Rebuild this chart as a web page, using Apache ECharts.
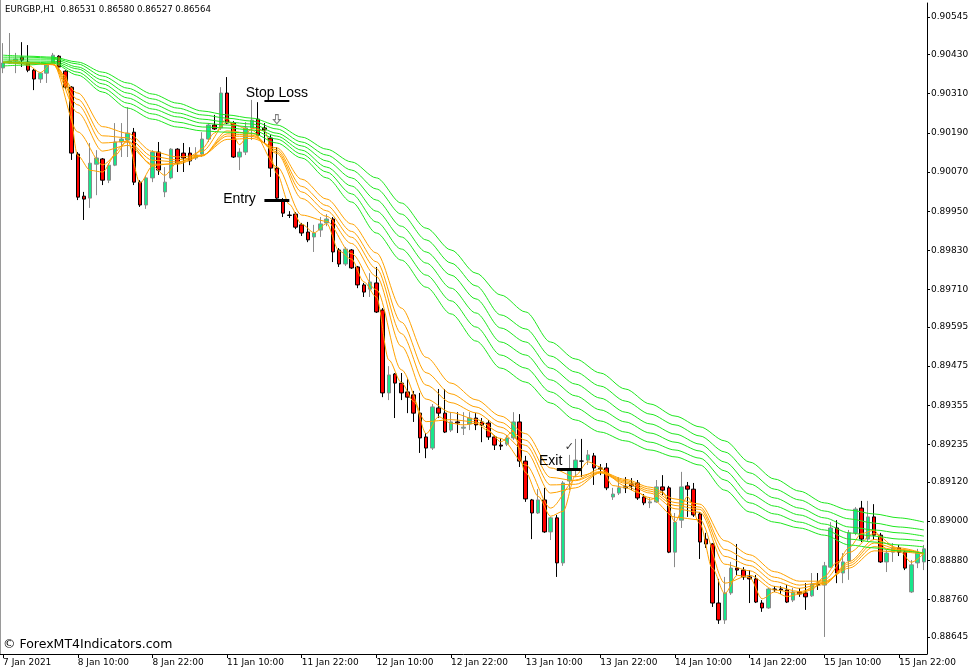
<!DOCTYPE html>
<html><head><meta charset="utf-8">
<script src="https://cdn.jsdelivr.net/npm/echarts@6/dist/echarts.min.js"></script>
<style>html,body{margin:0;padding:0;background:#fff}#c{width:977px;height:672px}</style>
</head><body><div id="c"></div>
<script>
// ---- tick labels ----
const timeLabels = ['7 Jan 2021','8 Jan 10:00','8 Jan 22:00','11 Jan 10:00','11 Jan 22:00','12 Jan 10:00','12 Jan 22:00','13 Jan 10:00','13 Jan 22:00','14 Jan 10:00','14 Jan 22:00','15 Jan 10:00','15 Jan 22:00'];
const priceTicks = [0.90545,0.90430,0.90310,0.90190,0.90070,0.89950,0.89830,0.89710,0.89595,0.89475,0.89355,0.89235,0.89120,0.89000,0.88880,0.88760,0.88645];

// ---- candles (EURGBP H1) ----
const open = [0.90389,0.90404,0.90410,0.90422,0.90407,0.90382,0.90355,0.90373,0.90404,0.90425,
0.90379,0.90330,0.90125,0.89996,0.89990,0.90094,0.90110,0.90045,0.90091,0.90162,
0.90168,0.90192,0.90039,0.89969,0.90052,0.90131,0.90009,0.90052,0.90140,0.90128,
0.90128,0.90113,0.90125,0.90171,0.90214,0.90205,0.90312,0.90220,0.90116,0.90131,
0.90205,0.90232,0.90205,0.90174,0.90082,0.89984,0.89938,0.89941,0.89908,0.89886,
0.89871,0.89892,0.89914,0.89926,0.89831,0.89788,0.89831,0.89779,0.89724,0.89711,
0.89730,0.89647,0.89393,0.89451,0.89423,0.89396,0.89387,0.89331,0.89258,0.89224,
0.89347,0.89331,0.89279,0.89304,0.89285,0.89298,0.89316,0.89304,0.89301,0.89258,
0.89233,0.89236,0.89255,0.89304,0.89184,0.89065,0.89025,0.89065,0.88967,0.89010,
0.88872,0.89123,0.89157,0.89184,0.89187,0.89200,0.89163,0.89163,0.89074,0.89086,
0.89105,0.89114,0.89117,0.89074,0.89056,0.89059,0.89105,0.89102,0.88905,0.89003,
0.89108,0.89098,0.89022,0.88945,0.88930,0.88749,0.88697,0.88780,0.88856,0.88850,
0.88829,0.88823,0.88749,0.88734,0.88792,0.88792,0.88789,0.88758,0.88783,0.88780,
0.88771,0.88807,0.88804,0.88859,0.88979,0.88841,0.88878,0.88964,0.89040,0.88945,
0.89013,0.88957,0.88875,0.88905,0.88918,0.88905,0.88783,0.88872,0.88875];
const high = [0.90465,0.90496,0.90435,0.90468,0.90459,0.90386,0.90376,0.90404,0.90435,0.90428,
0.90382,0.90333,0.90131,0.90009,0.90159,0.90137,0.90113,0.90097,0.90220,0.90220,
0.90269,0.90205,0.90045,0.90058,0.90137,0.90162,0.90085,0.90143,0.90143,0.90159,
0.90146,0.90146,0.90192,0.90220,0.90245,0.90330,0.90361,0.90226,0.90143,0.90223,
0.90291,0.90284,0.90220,0.90183,0.90146,0.89990,0.89950,0.89947,0.89914,0.89917,
0.89908,0.89932,0.89941,0.89932,0.89837,0.89840,0.89834,0.89782,0.89730,0.89760,
0.89779,0.89653,0.89475,0.89454,0.89454,0.89439,0.89399,0.89393,0.89270,0.89359,
0.89405,0.89405,0.89334,0.89334,0.89334,0.89334,0.89331,0.89316,0.89310,0.89264,
0.89255,0.89264,0.89334,0.89328,0.89200,0.89068,0.89098,0.89102,0.89013,0.89019,
0.89123,0.89203,0.89252,0.89252,0.89218,0.89209,0.89175,0.89178,0.89102,0.89135,
0.89135,0.89132,0.89126,0.89083,0.89071,0.89126,0.89141,0.89108,0.89025,0.89151,
0.89120,0.89117,0.89028,0.88964,0.88933,0.88823,0.88829,0.88875,0.88930,0.88859,
0.88850,0.88835,0.88758,0.88795,0.88801,0.88801,0.88804,0.88795,0.88795,0.88810,
0.88841,0.88841,0.88875,0.88997,0.89003,0.88902,0.88973,0.89043,0.89062,0.89062,
0.89052,0.88964,0.88912,0.88933,0.88927,0.88912,0.88881,0.88915,0.88927];
const low = [0.90373,0.90401,0.90373,0.90392,0.90376,0.90321,0.90343,0.90343,0.90401,0.90376,
0.90324,0.90107,0.89984,0.89923,0.89960,0.89999,0.90030,0.90036,0.90088,0.90116,
0.90116,0.90030,0.89963,0.89957,0.90039,0.90061,0.89993,0.90048,0.90070,0.90070,
0.90091,0.90107,0.90116,0.90162,0.90199,0.90199,0.90217,0.90113,0.90076,0.90122,
0.90168,0.90180,0.90159,0.90055,0.89984,0.89932,0.89929,0.89895,0.89874,0.89855,
0.89825,0.89871,0.89904,0.89794,0.89779,0.89782,0.89773,0.89714,0.89687,0.89687,
0.89638,0.89380,0.89371,0.89316,0.89371,0.89331,0.89304,0.89209,0.89193,0.89218,
0.89316,0.89270,0.89273,0.89270,0.89264,0.89279,0.89279,0.89242,0.89249,0.89218,
0.89218,0.89230,0.89249,0.89166,0.89059,0.88945,0.89022,0.88964,0.88942,0.88829,
0.88863,0.89095,0.89135,0.89135,0.89172,0.89111,0.89141,0.89095,0.89065,0.89080,
0.89086,0.89095,0.89065,0.89049,0.89040,0.89056,0.89080,0.88902,0.88859,0.88979,
0.89013,0.89013,0.88884,0.88918,0.88737,0.88685,0.88685,0.88774,0.88835,0.88820,
0.88749,0.88749,0.88722,0.88731,0.88783,0.88777,0.88749,0.88752,0.88768,0.88728,
0.88768,0.88789,0.88645,0.88856,0.88810,0.88810,0.88820,0.88957,0.88936,0.88939,
0.88942,0.88872,0.88844,0.88875,0.88893,0.88850,0.88780,0.88856,0.88850];
const close = [0.90404,0.90410,0.90416,0.90413,0.90382,0.90355,0.90373,0.90398,0.90428,0.90392,
0.90330,0.90128,0.89993,0.89987,0.90097,0.90113,0.90045,0.90091,0.90162,0.90171,
0.90189,0.90039,0.89969,0.90052,0.90131,0.90076,0.90039,0.90140,0.90097,0.90113,
0.90104,0.90122,0.90171,0.90214,0.90202,0.90312,0.90220,0.90116,0.90131,0.90205,
0.90229,0.90183,0.90199,0.90082,0.89990,0.89944,0.89937,0.89901,0.89883,0.89862,
0.89883,0.89911,0.89926,0.89825,0.89788,0.89834,0.89776,0.89724,0.89702,0.89733,
0.89641,0.89393,0.89448,0.89423,0.89393,0.89380,0.89331,0.89255,0.89224,0.89350,
0.89331,0.89273,0.89304,0.89301,0.89288,0.89316,0.89295,0.89295,0.89258,0.89233,
0.89230,0.89255,0.89304,0.89184,0.89068,0.89025,0.89065,0.88967,0.89010,0.88872,
0.89117,0.89154,0.89187,0.89184,0.89203,0.89163,0.89160,0.89102,0.89083,0.89102,
0.89102,0.89108,0.89071,0.89056,0.89059,0.89105,0.89095,0.88905,0.88997,0.89105,
0.89098,0.89019,0.88936,0.88930,0.88749,0.88697,0.88780,0.88856,0.88850,0.88829,
0.88823,0.88752,0.88734,0.88792,0.88790,0.88789,0.88752,0.88783,0.88777,0.88768,
0.88807,0.88804,0.88863,0.88979,0.88841,0.88875,0.88964,0.89037,0.88945,0.89013,
0.88957,0.88875,0.88902,0.88918,0.88905,0.88856,0.88866,0.88902,0.88915];

// ---- moving-average ribbons (fastest line read every 2 bars, others every 4 bars) ----
const fastIdx = [0,2,4,6,8,10,12,14,16,18,20,22,24,26,28,30,32,34,36,38,40,42,44,46,48,50,52,54,56,58,60,62,64,66,68,70,72,74,76,78,80,82,84,86,88,90,92,94,96,98,100,102,104,106,108,110,112,114,116,118,120,122,124,126,128,130,132,134,136,138,140,142,144,146,148];
const ma3 = [0.90405,0.90412,0.90397,0.90375,0.90407,0.90365,0.90120,0.90075,0.90070,0.90121,
0.90168,0.90036,0.90088,0.90060,0.90099,0.90105,0.90142,0.90190,0.90235,0.90154,
0.90204,0.90196,0.90065,0.89971,0.89910,0.89884,0.89912,0.89828,0.89803,0.89733,
0.89687,0.89494,0.89425,0.89367,0.89268,0.89320,0.89300,0.89295,0.89300,0.89277,
0.89243,0.89276,0.89149,0.89076,0.89015,0.89030,0.89140,0.89182,0.89166,0.89109,
0.89103,0.89088,0.89065,0.89090,0.88998,0.89075,0.88992,0.88855,0.88778,0.88834,
0.88827,0.88762,0.88783,0.88769,0.88776,0.88790,0.88830,0.88873,0.88919,0.88962,
0.88972,0.88913,0.88910,0.88874,0.88901];
const lineIdx = [0,4,8,12,16,20,24,28,32,36,40,44,48,52,56,60,64,68,72,76,80,84,88,92,96,100,104,108,112,116,120,124,128,132,136,140,144,148];
const ma5  = [0.90406,0.90401,0.90402,0.90193,0.90092,0.90162,0.90090,0.90097,0.90134,0.90222,0.90198,0.90086,0.89938,0.89919,0.89820,0.89709,0.89464,0.89305,0.89311,0.89304,0.89253,0.89172,0.89040,0.89126,0.89160,0.89108,0.89072,0.89012,0.89004,0.88810,0.88834,0.88789,0.88779,0.88821,0.88904,0.88962,0.88913,0.88901];
const ma8  = [0.90406,0.90404,0.90399,0.90252,0.90134,0.90152,0.90094,0.90094,0.90119,0.90196,0.90188,0.90127,0.89989,0.89934,0.89851,0.89750,0.89536,0.89374,0.89333,0.89312,0.89271,0.89214,0.89086,0.89102,0.89148,0.89116,0.89086,0.89038,0.89027,0.88868,0.88848,0.88800,0.88784,0.88806,0.88876,0.88944,0.88918,0.88901];
const ma10 = [0.90406,0.90405,0.90399,0.90276,0.90159,0.90164,0.90106,0.90101,0.90120,0.90187,0.90183,0.90132,0.90009,0.89951,0.89870,0.89774,0.89575,0.89417,0.89363,0.89332,0.89288,0.89232,0.89111,0.89113,0.89149,0.89120,0.89092,0.89048,0.89036,0.88892,0.88864,0.88815,0.88794,0.88810,0.88870,0.88933,0.88914,0.88900];
const ma12 = [0.90407,0.90405,0.90400,0.90293,0.90181,0.90175,0.90118,0.90107,0.90121,0.90180,0.90179,0.90138,0.90026,0.89967,0.89888,0.89795,0.89610,0.89455,0.89390,0.89350,0.89303,0.89248,0.89134,0.89124,0.89150,0.89124,0.89098,0.89057,0.89043,0.88913,0.88879,0.88828,0.88804,0.88812,0.88863,0.88922,0.88911,0.88900];
const ma15 = [0.90407,0.90405,0.90400,0.90312,0.90209,0.90189,0.90133,0.90116,0.90122,0.90170,0.90173,0.90144,0.90048,0.89987,0.89911,0.89822,0.89653,0.89502,0.89423,0.89372,0.89322,0.89268,0.89163,0.89136,0.89152,0.89128,0.89104,0.89068,0.89052,0.88940,0.88897,0.88845,0.88816,0.88816,0.88856,0.88909,0.88906,0.88899];
const ma30 = [0.90395,0.90398,0.90404,0.90367,0.90315,0.90266,0.90232,0.90208,0.90196,0.90192,0.90189,0.90159,0.90113,0.90052,0.89978,0.89883,0.89800,0.89717,0.89635,0.89552,0.89469,0.89426,0.89362,0.89310,0.89273,0.89246,0.89218,0.89197,0.89172,0.89095,0.89028,0.88997,0.88979,0.88957,0.88927,0.88918,0.88909,0.88902];
const ma35 = [0.90404,0.90404,0.90407,0.90376,0.90327,0.90281,0.90248,0.90223,0.90208,0.90205,0.90199,0.90171,0.90125,0.90070,0.90003,0.89917,0.89834,0.89754,0.89675,0.89595,0.89509,0.89469,0.89396,0.89347,0.89307,0.89273,0.89242,0.89218,0.89193,0.89126,0.89056,0.89022,0.88997,0.88973,0.88945,0.88936,0.88927,0.88921];
const ma40 = [0.90410,0.90410,0.90410,0.90386,0.90340,0.90297,0.90263,0.90239,0.90220,0.90214,0.90208,0.90180,0.90137,0.90085,0.90027,0.89950,0.89871,0.89791,0.89714,0.89638,0.89549,0.89509,0.89433,0.89384,0.89341,0.89304,0.89270,0.89242,0.89215,0.89154,0.89083,0.89046,0.89019,0.88991,0.88964,0.88954,0.88945,0.88939];
const ma45 = [0.90416,0.90416,0.90416,0.90392,0.90352,0.90312,0.90278,0.90251,0.90232,0.90223,0.90217,0.90189,0.90150,0.90104,0.90052,0.89984,0.89904,0.89825,0.89754,0.89681,0.89592,0.89549,0.89469,0.89420,0.89377,0.89334,0.89298,0.89267,0.89236,0.89181,0.89114,0.89071,0.89040,0.89010,0.88982,0.88973,0.88964,0.88954];
const ma50 = [0.90422,0.90422,0.90419,0.90401,0.90364,0.90327,0.90294,0.90266,0.90245,0.90235,0.90226,0.90202,0.90162,0.90122,0.90076,0.90018,0.89941,0.89862,0.89791,0.89721,0.89632,0.89589,0.89506,0.89457,0.89414,0.89368,0.89328,0.89295,0.89261,0.89212,0.89148,0.89098,0.89065,0.89031,0.89007,0.88994,0.88982,0.88973];
const ma60 = [0.90428,0.90425,0.90422,0.90407,0.90376,0.90343,0.90309,0.90281,0.90257,0.90245,0.90235,0.90214,0.90177,0.90140,0.90101,0.90052,0.89975,0.89898,0.89831,0.89760,0.89693,0.89641,0.89549,0.89497,0.89454,0.89405,0.89359,0.89322,0.89289,0.89246,0.89181,0.89129,0.89092,0.89056,0.89034,0.89022,0.89010,0.88997];

// ---- annotations: [bar, price] ----
const noteText = [['Stop Loss', 44, 0.90312], ['Entry', 38, 0.89987], ['Exit', 88, 0.89184]];
const levelMarks = [[42, 46, 0.90288, 2], [42, 46, 0.89984, 3], [89, 93, 0.89160, 3]];
const arrowMark = [44, 0.90232];
const checkMark = [91, 0.89227];

const chart = echarts.init(document.getElementById('c'), null, {renderer: 'canvas'});
const cats = open.map((_, i) => String(i));
const showTick = (i) => i % 12 === 0;
const orange = '#ffa200', green = '#1ee81e';
const lineSeries = (idx, arr, color) => ({
  type: 'line', data: idx.map((k, j) => [k, arr[j]]), showSymbol: false, silent: true,
  smooth: 0.3, smoothMonotone: 'x', z: 4, animation: false,
  lineStyle: {width: 1, color: color}
});
const maSeries = [
  lineSeries(fastIdx, ma3, orange), lineSeries(lineIdx, ma5, orange), lineSeries(lineIdx, ma8, orange),
  lineSeries(lineIdx, ma10, orange), lineSeries(lineIdx, ma12, orange), lineSeries(lineIdx, ma15, orange),
  lineSeries(lineIdx, ma30, green), lineSeries(lineIdx, ma35, green), lineSeries(lineIdx, ma40, green),
  lineSeries(lineIdx, ma45, green), lineSeries(lineIdx, ma50, green), lineSeries(lineIdx, ma60, green)
];

const option = {
  animation: false,
  backgroundColor: '#ffffff',
  grid: {left: 0, top: 3, width: 927, height: 651, containLabel: false},
  xAxis: {
    type: 'category', data: cats, boundaryGap: true,
    axisLine: {show: true, lineStyle: {color: '#000', width: 1}},
    axisTick: {show: true, alignWithLabel: true, interval: showTick, length: 4, lineStyle: {color: '#000'}},
    axisLabel: {interval: showTick, formatter: (v, i) => timeLabels[Math.round(i / 12)] || '', align: 'left', margin: 4,
      fontFamily: 'DejaVu Sans', fontSize: 9, color: '#000', padding: [0, 0, 0, 0]},
    splitLine: {show: false}
  },
  yAxis: {
    type: 'value', position: 'right', min: 0.885928, max: 0.905880, scale: true,
    axisLine: {show: true, lineStyle: {color: '#000', width: 1}},
    axisTick: {show: true, customValues: priceTicks, length: 3, inside: false, lineStyle: {color: '#000'}},
    axisLabel: {customValues: priceTicks, formatter: v => v.toFixed(5), margin: 4,
      fontFamily: 'DejaVu Sans', fontSize: 9, color: '#000'},
    splitLine: {show: false}
  },
  series: [
    {
      type: 'candlestick', barWidth: 4, z: 2,
      data: open.map((o, i) => [o, close[i], low[i], high[i]]),
      itemStyle: {color: '#17e68b', color0: '#ff0000', borderColor: '#8a8a8a', borderColor0: '#000000', borderWidth: 1},
      markLine: {
        silent: true, symbol: ['none', 'none'], label: {show: false}, animation: false,
        data: levelMarks.map(m => [
          {coord: [String(m[0]), m[2]], lineStyle: {color: '#000', width: m[3], type: 'solid'}},
          {coord: [String(m[1]), m[2]]}
        ])
      },
      markPoint: {
        silent: true, animation: false,
        data: noteText.map(n => ({
          name: n[0], coord: [String(n[1]), n[2]], symbol: 'rect', symbolSize: 1,
          itemStyle: {color: 'rgba(0,0,0,0)'},
          label: {show: true, position: 'inside', formatter: n[0], color: '#000', fontSize: 14, fontFamily: 'Liberation Sans'}
        })).concat([
          {name: 'arrow', coord: [String(arrowMark[0]), arrowMark[1]], symbol: 'path://M3,0 L7,0 L7,6 L10,6 L5,11 L0,6 L3,6 Z',
            symbolSize: [7, 9], itemStyle: {color: '#ffffff', borderColor: '#7a7a7a', borderWidth: 1}, label: {show: false}},
          {name: 'check', coord: [String(checkMark[0]), checkMark[1]], symbol: 'rect', symbolSize: 1,
            itemStyle: {color: 'rgba(0,0,0,0)'},
            label: {show: true, position: 'inside', formatter: '\u2713', color: '#333', fontSize: 11, fontFamily: 'DejaVu Sans'}}
        ])
      }
    }
  ].concat(maSeries),
  graphic: [
    {type: 'line', shape: {x1: 0.5, y1: 0, x2: 0.5, y2: 654}, style: {stroke: '#9a9a9a', lineWidth: 1}, z: 10},
    {type: 'text', left: 5, top: 5, style: {text: 'EURGBP,H1  0.86531 0.86580 0.86527 0.86564', fill: '#000', font: '8.6px "DejaVu Sans"'}, z: 10},
    {type: 'text', left: 3, top: 638, style: {text: '\u00a9 ForexMT4Indicators.com', fill: '#000', font: '12.5px "DejaVu Sans"'}, z: 10}
  ]
};
chart.setOption(option);
</script>
</body></html>
